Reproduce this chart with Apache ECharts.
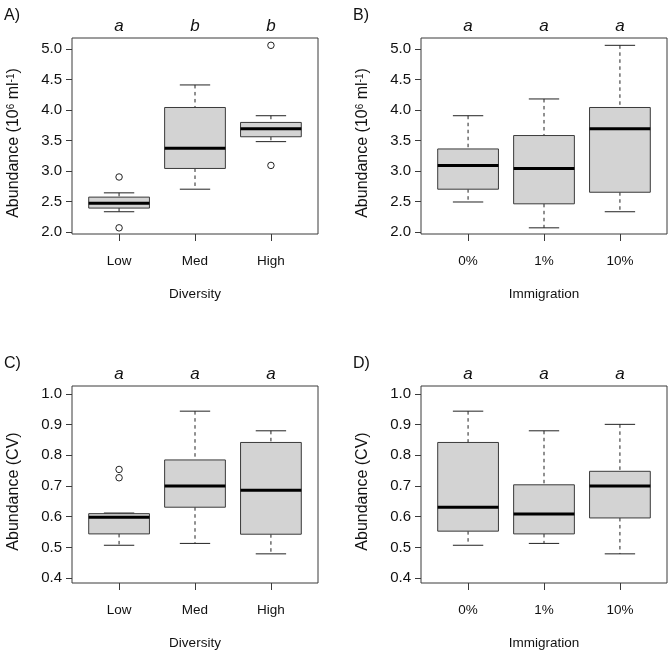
<!DOCTYPE html>
<html><head><meta charset="utf-8">
<script src="https://cdn.jsdelivr.net/npm/echarts@6/dist/echarts.min.js"></script>
<style>html,body{margin:0;padding:0;background:#fff}#c{width:672px;height:655px}</style>
</head><body><div id="c"></div>
<script>
// ---- data ----
const diversityCats = ['Low', 'Med', 'High'];
const immigrationCats = ['0%', '1%', '10%'];
// each box: [lower whisker, Q1, median, Q3, upper whisker]
const boxA = [[2.33, 2.39, 2.47, 2.57, 2.64], [2.70, 3.04, 3.37, 4.04, 4.41], [3.48, 3.56, 3.69, 3.795, 3.905]];
const outA = [[2.90, 2.066], [], [5.06, 3.09]];
const boxB = [[2.49, 2.70, 3.09, 3.36, 3.905], [2.066, 2.46, 3.04, 3.58, 4.18], [2.33, 2.65, 3.69, 4.04, 5.06]];
const outB = [[], [], []];
const boxC = [[0.507, 0.544, 0.598, 0.61, 0.612], [0.513, 0.631, 0.70, 0.785, 0.944], [0.479, 0.543, 0.686, 0.842, 0.880]];
const outC = [[0.754, 0.727], [], []];
const boxD = [[0.507, 0.553, 0.631, 0.842, 0.944], [0.513, 0.544, 0.609, 0.704, 0.880], [0.479, 0.596, 0.70, 0.748, 0.901]];
const outD = [[], [], []];
const sigA = ['a', 'b', 'b'];
const sigB = ['a', 'a', 'a'];
const sigC = ['a', 'a', 'a'];
const sigD = ['a', 'a', 'a'];
const ticksAbund = [2.0, 2.5, 3.0, 3.5, 4.0, 4.5, 5.0];
const ticksCV = [0.4, 0.5, 0.6, 0.7, 0.8, 0.9, 1.0];
const panelLetters = ['A)', 'B)', 'C)', 'D)'];
const xTitles = ['Diversity', 'Immigration', 'Diversity', 'Immigration'];

// ---- layout / style ----
const FONT = '"Liberation Sans", Arial, Helvetica, sans-serif';
const TXT = '#111';
const LINE = '#3a3a3a';
const grids = [
  { left: 72, top: 38, width: 246, height: 196 },
  { left: 421, top: 38, width: 246, height: 196 },
  { left: 72, top: 386, width: 246, height: 197 },
  { left: 421, top: 386, width: 246, height: 197 }
];
const panels = [
  { cats: diversityCats, box: boxA, out: outA, sig: sigA, ticks: ticksAbund, ymin: 1.965, ymax: 5.18 },
  { cats: immigrationCats, box: boxB, out: outB, sig: sigB, ticks: ticksAbund, ymin: 1.965, ymax: 5.18 },
  { cats: diversityCats, box: boxC, out: outC, sig: sigC, ticks: ticksCV, ymin: 0.384, ymax: 1.026 },
  { cats: immigrationCats, box: boxD, out: outD, sig: sigD, ticks: ticksCV, ymin: 0.384, ymax: 1.026 }
];
const XMIN = 0.38, XMAX = 3.62, POS = [1, 2, 3];

function renderBox(params, api) {
  const x = api.value(0);
  const lo = api.coord([x, api.value(1)]);
  const q1 = api.coord([x, api.value(2)]);
  const md = api.coord([x, api.value(3)]);
  const q3 = api.coord([x, api.value(4)]);
  const hi = api.coord([x, api.value(5)]);
  const bw = api.size([0.8, 0])[0];
  const half = bw / 2, cap = bw / 4;
  const cx = lo[0];
  const dash = { stroke: '#222', lineWidth: 1, lineDash: [3.5, 3.5] };
  const solid = { stroke: '#222', lineWidth: 1 };
  return {
    type: 'group',
    children: [
      { type: 'line', shape: { x1: cx, y1: hi[1], x2: cx, y2: q3[1] }, style: dash },
      { type: 'line', shape: { x1: cx, y1: q1[1], x2: cx, y2: lo[1] }, style: dash },
      { type: 'line', shape: { x1: cx - cap, y1: hi[1], x2: cx + cap, y2: hi[1] }, style: solid },
      { type: 'line', shape: { x1: cx - cap, y1: lo[1], x2: cx + cap, y2: lo[1] }, style: solid },
      { type: 'rect', shape: { x: cx - half, y: q3[1], width: bw, height: q1[1] - q3[1] },
        style: { fill: '#d3d3d3', stroke: LINE, lineWidth: 1 } },
      { type: 'line', shape: { x1: cx - half, y1: md[1], x2: cx + half, y2: md[1] },
        style: { stroke: '#000', lineWidth: 3 } }
    ]
  };
}

const option = {
  animation: false,
  backgroundColor: '#fff',
  grid: grids.map(g => Object.assign({ show: true, borderColor: LINE, borderWidth: 1, backgroundColor: 'transparent', containLabel: false, outerBoundsMode: 'none' }, g)),
  xAxis: [],
  yAxis: [],
  series: [],
  graphic: []
};

panels.forEach((p, i) => {
  option.xAxis.push({
    gridIndex: i, type: 'value', min: XMIN, max: XMAX,
    axisLine: { show: false }, splitLine: { show: false },
    axisTick: { show: true, customValues: POS, length: 7, lineStyle: { color: LINE, width: 1 } },
    axisLabel: { customValues: POS, formatter: v => p.cats[Math.round(v) - 1], margin: 20, fontSize: 13.5, color: TXT, fontFamily: FONT },
    name: xTitles[i], nameLocation: 'middle', nameGap: 53,
    nameTextStyle: { fontSize: 13.5, color: TXT, fontFamily: FONT }
  });
  option.xAxis.push({
    gridIndex: i, type: 'value', position: 'top', min: XMIN, max: XMAX,
    axisLine: { show: false }, splitLine: { show: false }, axisTick: { show: false },
    axisLabel: { customValues: POS, formatter: v => p.sig[Math.round(v) - 1], margin: 3, fontSize: 17, fontStyle: 'italic', color: TXT, fontFamily: FONT }
  });
  option.yAxis.push({
    gridIndex: i, type: 'value', min: p.ymin, max: p.ymax,
    axisLine: { show: false }, splitLine: { show: false },
    axisTick: { show: true, customValues: p.ticks, length: 6, lineStyle: { color: LINE, width: 1 } },
    axisLabel: { customValues: p.ticks, formatter: v => v.toFixed(1), margin: 10, fontSize: 15, color: TXT, fontFamily: FONT }
  });
  option.series.push({
    type: 'custom', xAxisIndex: 2 * i, yAxisIndex: i,
    renderItem: renderBox,
    encode: { x: 0, y: [1, 2, 3, 4, 5] },
    data: p.box.map((b, k) => [POS[k]].concat(b))
  });
  const pts = [];
  p.out.forEach((vals, k) => vals.forEach(v => pts.push([POS[k], v])));
  option.series.push({
    type: 'scatter', xAxisIndex: 2 * i, yAxisIndex: i,
    symbol: 'circle', symbolSize: 6.5,
    itemStyle: { color: 'rgba(0,0,0,0)', borderColor: '#222', borderWidth: 1, opacity: 1 },
    data: pts
  });
  const g = grids[i];
  option.graphic.push({
    type: 'text', left: g.left - 68, top: g.top - 30,
    style: { text: panelLetters[i], fontSize: 16, fontFamily: FONT, fill: TXT }
  });
  const yTitleRich = {
    n: { fontSize: 16, fontFamily: FONT, color: TXT },
    s: { fontSize: 10, fontFamily: FONT, color: TXT, verticalAlign: 'top', padding: [0, 0, 4, 0] }
  };
  option.graphic.push({
    type: 'text',
    x: g.left - 58, y: g.top + g.height / 2 + 7,
    rotation: Math.PI / 2,
    style: {
      text: i < 2 ? '{n|Abundance (10}{s|6}{n| ml}{s|-1}{n|)}' : '{n|Abundance (CV)}',
      rich: yTitleRich, align: 'center', verticalAlign: 'middle', fill: TXT,
      fontSize: 16, fontFamily: FONT
    }
  });
});

const chart = echarts.init(document.getElementById('c'), null, { renderer: 'canvas' });
chart.setOption(option);
</script>
</body></html>
